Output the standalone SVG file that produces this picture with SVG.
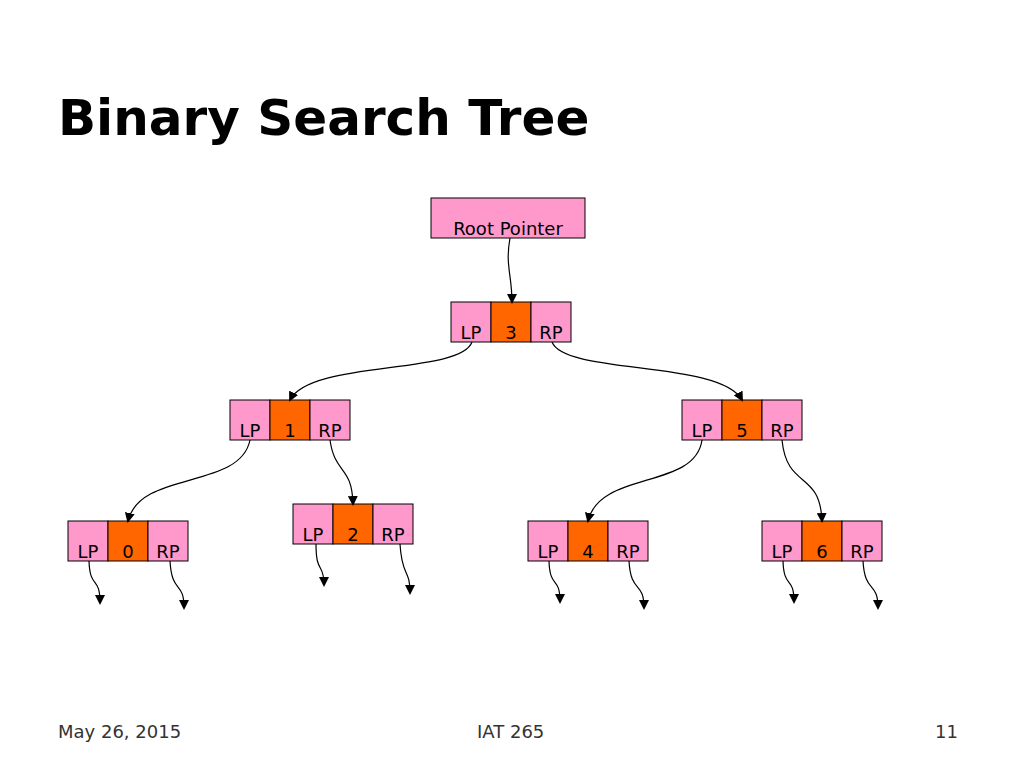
<svg xmlns="http://www.w3.org/2000/svg" width="1024" height="768" viewBox="0 0 1024 768">
<style>
.p{fill:#ff99cc;stroke:#000;stroke-width:1}
.o{fill:#ff6600;stroke:#000;stroke-width:1}
.t{font-family:"DejaVu Sans",Verdana,sans-serif;font-size:18px;fill:#000;text-anchor:middle}
.f{font-family:"DejaVu Sans",Verdana,sans-serif;font-size:18px;fill:#333}
.c{fill:none;stroke:#000;stroke-width:1.2;marker-end:url(#a)}
</style>
<defs>
<marker id="a" markerWidth="10" markerHeight="10" refX="8" refY="5" orient="auto" markerUnits="userSpaceOnUse"><path d="M0,0 L10,5 L0,10 z" fill="#000"/></marker>
<g id="n"><rect class="p" x="0" y="0" width="40" height="40"/><rect class="o" x="40" y="0" width="40" height="40"/><rect class="p" x="80" y="0" width="40" height="40"/><text class="t" x="20" y="37">LP</text><text class="t" x="100" y="37">RP</text></g>
</defs>
<rect width="1024" height="768" fill="#fff"/>
<text x="58" y="135" font-family="'DejaVu Sans',Verdana,sans-serif" font-weight="bold" font-size="50" fill="#000">Binary Search Tree</text>
<g id="root"><rect class="p" x="431" y="198" width="154" height="40"/><text class="t" x="508" y="235">Root Pointer</text></g>
<g id="n3" transform="translate(451,302)"><use href="#n"/><text class="t" x="60" y="37">3</text></g>
<g id="n1" transform="translate(230,400)"><use href="#n"/><text class="t" x="60" y="37">1</text></g>
<g id="n5" transform="translate(682,400)"><use href="#n"/><text class="t" x="60" y="37">5</text></g>
<g id="n0" transform="translate(68,521)"><use href="#n"/><text class="t" x="60" y="37">0</text></g>
<g id="n2" transform="translate(293,504)"><use href="#n"/><text class="t" x="60" y="37">2</text></g>
<g id="n4" transform="translate(528,521)"><use href="#n"/><text class="t" x="60" y="37">4</text></g>
<g id="n6" transform="translate(762,521)"><use href="#n"/><text class="t" x="60" y="37">6</text></g>
<g id="connectors">
<path class="c" d="M510,238 C505,265 512,275 512,302"/>
<path class="c" d="M472,342 C460,375 310,360 290,400"/>
<path class="c" d="M552,342 C565,375 720,360 742,400"/>
<path class="c" d="M250,440 C240,490 140,470 128,521"/>
<path class="c" d="M330,440 C335,475 352,465 353,504"/>
<path class="c" d="M702,440 C695,490 600,470 588,521"/>
<path class="c" d="M782,440 C787,490 820,470 822,521"/>
<path class="c" d="M89,561 C90,590 100,575 100,603"/>
<path class="c" d="M170,561 C172,595 184,580 184,608"/>
<path class="c" d="M316,544 C316,575 324,562 324,585"/>
<path class="c" d="M400,544 C402,578 410,568 410,593"/>
<path class="c" d="M549,561 C550,590 560,575 560,602"/>
<path class="c" d="M629,561 C631,595 644,580 644,608"/>
<path class="c" d="M783,561 C784,590 794,575 794,602"/>
<path class="c" d="M863,561 C865,595 878,580 878,608"/>
</g>
<text class="f" x="58" y="738">May 26, 2015</text>
<text class="f" x="477" y="738">IAT 265</text>
<text class="f" x="935" y="738">11</text>
</svg>
